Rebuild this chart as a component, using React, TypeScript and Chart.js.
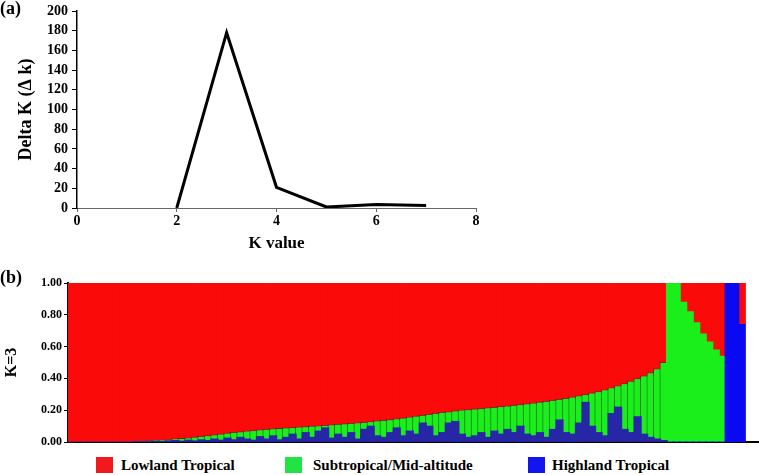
import React, { useEffect, useRef } from "react";
import { Chart, registerables } from "chart.js";

Chart.register(...registerables);

const SERIF = "'Liberation Serif', 'Times New Roman', serif";

// ---- Panel (a): Delta K vs K ----
const kValues = [2, 3, 4, 5, 6, 7];
const deltaK = [0, 178, 21, 1, 3.5, 2.5];

// ---- Panel (b): STRUCTURE membership at K=3 ----
const individuals = Array.from({ length: 104 }, (_, i) => i + 1);

const highland = [
  0, 0, 0, 0, 0, 0, 0, 0, 0, 0,
  0.002, 0.003, 0.004, 0.006, 0.005, 0.008, 0.01, 0.006, 0.012, 0.008,
  0.015, 0.01, 0.02, 0.012, 0.025, 0.015, 0.03, 0.02, 0.012, 0.035,
  0.02, 0.04, 0.015, 0.03, 0.05, 0.02, 0.06, 0.03, 0.07, 0.09,
  0.025, 0.05, 0.03, 0.06, 0.02, 0.08, 0.1, 0.04, 0.03, 0.06,
  0.09, 0.04, 0.07, 0.05, 0.12, 0.1, 0.04, 0.06, 0.12, 0.13,
  0.05, 0.03, 0.04, 0.06, 0.03, 0.07, 0.05, 0.08, 0.06, 0.1,
  0.05, 0.04, 0.06, 0.03, 0.08, 0.14, 0.06, 0.05, 0.12, 0.25,
  0.1, 0.06, 0.04, 0.18, 0.22, 0.08, 0.06, 0.16, 0.05, 0.03,
  0.02, 0.01,
  0, 0, 0, 0, 0, 0, 0, 0, 0,
  1, 1, 0.74,
];

const subtropical = [
  0, 0, 0, 0, 0, 0, 0, 0, 0, 0,
  0.001, 0.002, 0.004, 0.004, 0.007, 0.007, 0.008, 0.016, 0.014, 0.022,
  0.02, 0.03, 0.025, 0.038, 0.03, 0.045, 0.034, 0.048, 0.06, 0.041,
  0.059, 0.042, 0.07, 0.058, 0.04, 0.073, 0.036, 0.069, 0.032, 0.015,
  0.083, 0.061, 0.084, 0.057, 0.1, 0.044, 0.028, 0.092, 0.106, 0.08,
  0.055, 0.11, 0.086, 0.112, 0.048, 0.074, 0.14, 0.126, 0.07, 0.065,
  0.15, 0.173, 0.167, 0.15, 0.184, 0.148, 0.172, 0.146, 0.17, 0.135,
  0.19, 0.205, 0.19, 0.226, 0.182, 0.128, 0.215, 0.232, 0.17, 0.048,
  0.207, 0.257, 0.288, 0.16, 0.133, 0.287, 0.322, 0.238, 0.365, 0.405,
  0.44, 0.49,
  1, 1, 0.88, 0.82, 0.75, 0.68, 0.63, 0.58, 0.54,
  0, 0, 0,
];

const lowland = [
  1, 1, 1, 1, 1, 1, 1, 1, 1, 1,
  0.997, 0.995, 0.992, 0.99, 0.988, 0.985, 0.982, 0.978, 0.974, 0.97,
  0.965, 0.96, 0.955, 0.95, 0.945, 0.94, 0.936, 0.932, 0.928, 0.924,
  0.921, 0.918, 0.915, 0.912, 0.91, 0.907, 0.904, 0.901, 0.898, 0.895,
  0.892, 0.889, 0.886, 0.883, 0.88, 0.876, 0.872, 0.868, 0.864, 0.86,
  0.855, 0.85, 0.844, 0.838, 0.832, 0.826, 0.82, 0.814, 0.81, 0.805,
  0.8, 0.797, 0.793, 0.79, 0.786, 0.782, 0.778, 0.774, 0.77, 0.765,
  0.76, 0.755, 0.75, 0.744, 0.738, 0.732, 0.725, 0.718, 0.71, 0.702,
  0.693, 0.683, 0.672, 0.66, 0.647, 0.633, 0.618, 0.602, 0.585, 0.565,
  0.54, 0.5,
  0, 0, 0.12, 0.18, 0.25, 0.32, 0.37, 0.42, 0.46,
  0, 0, 0.26,
];

const legendItems = [
  { label: "Lowland Tropical", color: "#f01a1e" },
  { label: "Subtropical/Mid-altitude", color: "#20e444" },
  { label: "Highland Tropical", color: "#1414ee" },
];

const MIXED_REGION_END = 92; // admixed lowland individuals come first

export default function App() {
  const refA = useRef<HTMLCanvasElement | null>(null);
  const refB = useRef<HTMLCanvasElement | null>(null);

  useEffect(() => {
    const tickFont = (size: number) => ({ family: SERIF, weight: "bold" as const, size, lineHeight: 1 });

    const chartA = new Chart(refA.current as HTMLCanvasElement, {
      type: "line",
      data: {
        datasets: [
          {
            data: kValues.map((k, i) => ({ x: k, y: deltaK[i] })),
            borderColor: "#000",
            borderWidth: 3,
            pointRadius: 0,
            fill: false,
            tension: 0,
          },
        ],
      },
      options: {
        responsive: false,
        animation: false,
        events: [],
        layout: { padding: { top: 7, left: 0, right: 24, bottom: 0 } },
        plugins: { legend: { display: false }, tooltip: { enabled: false } },
        scales: {
          x: {
            type: "linear",
            min: 0,
            max: 8,
            ticks: { stepSize: 2, color: "#000", font: tickFont(14), padding: 2, maxRotation: 0 },
            grid: { display: true, drawOnChartArea: false, drawTicks: true, tickLength: 4, color: "#666" },
            border: { display: true, color: "#666", width: 1 },
            title: {
              display: true,
              text: "K value",
              color: "#000",
              font: { family: SERIF, weight: "bold", size: 17 },
              padding: { top: 0, bottom: 1 },
            },
            afterFit: (s: any) => {
              s.height = 47;
            },
          },
          y: {
            min: 0,
            max: 200,
            ticks: { stepSize: 20, color: "#000", font: tickFont(14), padding: 4 },
            grid: { display: true, drawOnChartArea: false, drawTicks: true, tickLength: 5, color: "#000" },
            border: { display: true, color: "#000", width: 1.5 },
            title: {
              display: true,
              text: "Delta K (Δ k)",
              color: "#000",
              font: { family: SERIF, weight: "bold", size: 18 },
              padding: { top: 16, bottom: 0 },
            },
            afterFit: (s: any) => {
              s.width = 77;
            },
          },
        },
      },
    } as any);

    const barCommon = { barPercentage: 1.15, categoryPercentage: 1, inflateAmount: 0.4 };

    const chartB = new Chart(refB.current as HTMLCanvasElement, {
      type: "bar",
      data: {
        labels: individuals,
        datasets: [
          {
            label: "Highland Tropical",
            data: highland,
            backgroundColor: (c: any) => (c.dataIndex < MIXED_REGION_END ? "#2626a6" : "#0a0af2"),
            borderWidth: 0,
            ...barCommon,
          },
          {
            label: "Subtropical/Mid-altitude",
            data: subtropical,
            backgroundColor: "#1bef1b",
            borderColor: "rgba(20,50,20,0.6)",
            borderWidth: (c: any) =>
              c.dataIndex < MIXED_REGION_END ? { left: 1, right: 0, top: 1, bottom: 0 } : 0,
            borderSkipped: false,
            ...barCommon,
          },
          {
            label: "Lowland Tropical",
            data: lowland,
            backgroundColor: "#fb0a0a",
            borderWidth: 0,
            ...barCommon,
          },
        ],
      },
      options: {
        responsive: false,
        animation: false,
        events: [],
        layout: { padding: { top: 21, left: 0, right: 1, bottom: 0 } },
        plugins: { legend: { display: false }, tooltip: { enabled: false } },
        scales: {
          x: {
            type: "linear",
            stacked: true,
            min: 0.5,
            max: 106.5,
            offset: false,
            ticks: { display: false },
            grid: { display: false },
            border: { display: true, color: "#000", width: 2 },
            afterFit: (s: any) => {
              s.height = 10;
            },
          },
          y: {
            stacked: true,
            min: 0,
            max: 1,
            ticks: {
              stepSize: 0.2,
              color: "#000",
              font: tickFont(12),
              padding: 2,
              callback: (v: any) => Number(v).toFixed(2),
            },
            grid: { display: true, drawOnChartArea: false, drawTicks: true, tickLength: 4, color: "#000" },
            border: { display: true, color: "#000", width: 2 },
            title: {
              display: true,
              text: "K=3",
              color: "#000",
              font: { family: SERIF, weight: "bold", size: 16 },
              padding: { top: 2, bottom: 0 },
            },
            afterFit: (s: any) => {
              s.width = 68;
            },
          },
        },
      },
    } as any);

    return () => {
      chartA.destroy();
      chartB.destroy();
    };
  }, []);

  const legendPos = [
    { box: 96, text: 121 },
    { box: 285, text: 313 },
    { box: 528, text: 552 },
  ];

  return (
    <div
      style={{
        position: "fixed",
        left: 0,
        top: 0,
        width: 759,
        height: 475,
        background: "#fff",
        overflow: "hidden",
        fontFamily: SERIF,
      }}
    >
      <canvas ref={refA} width={500} height={255} style={{ position: "absolute", left: 0, top: 0 }} />
      <canvas ref={refB} width={759} height={190} style={{ position: "absolute", left: 0, top: 262 }} />
      <div style={{ position: "absolute", left: 0, top: -2, fontWeight: "bold", fontSize: 18, lineHeight: "20px" }}>
        (a)
      </div>
      <div style={{ position: "absolute", left: 0, top: 267, fontWeight: "bold", fontSize: 18, lineHeight: "20px" }}>
        (b)
      </div>
      {legendItems.map((it, i) => (
        <React.Fragment key={it.label}>
          <div
            style={{
              position: "absolute",
              left: legendPos[i].box,
              top: 457,
              width: 17,
              height: 16,
              background: it.color,
            }}
          />
          <div
            style={{
              position: "absolute",
              left: legendPos[i].text,
              top: 456,
              fontWeight: "bold",
              fontSize: 15,
              lineHeight: "18px",
              whiteSpace: "nowrap",
              color: "#000",
            }}
          >
            {it.label}
          </div>
        </React.Fragment>
      ))}
    </div>
  );
}
